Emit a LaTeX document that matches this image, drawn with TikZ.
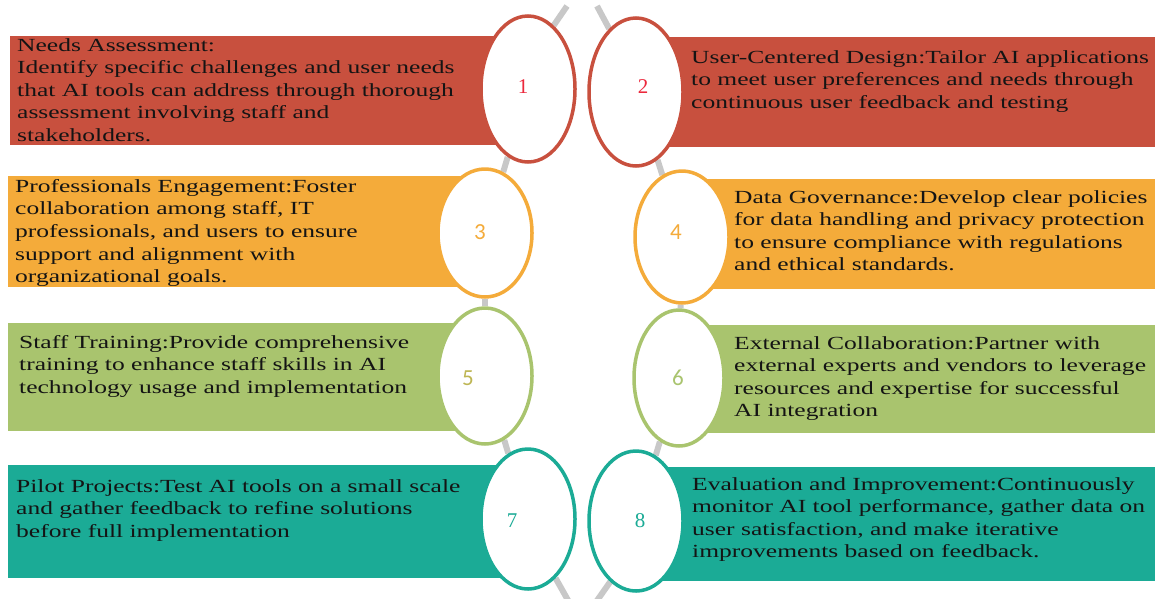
\documentclass[tikz,border=0pt]{standalone}
\usepackage{fontspec}
\setmainfont{Liberation Serif}[FakeStretch=1.38]
\newfontfamily\numserif{Liberation Serif}
\newfontfamily\numsans{Carlito}
\usetikzlibrary{shapes.geometric,backgrounds}
\definecolor{rowred}{RGB}{200,80,62}
\definecolor{roworange}{RGB}{244,171,58}
\definecolor{rowgreen}{RGB}{169,196,110}
\definecolor{rowteal}{RGB}{27,171,150}
\definecolor{numred}{RGB}{236,40,60}
\definecolor{numgold}{RGB}{190,182,84}
\definecolor{chain}{RGB}{200,200,200}

\begin{document}
\begin{tikzpicture}[x=1pt,y=-1pt,
  blob/.style={ellipse,draw=#1,line width=3.5pt,fill=white,inner sep=0pt,minimum width=94pt},
  num/.style={text=#1,inner sep=0pt,font=\fontsize{21}{21}\numserif},
  numsf/.style={text=#1,inner sep=0pt,font=\fontsize{23}{23}\numsans},
  desc/.style={anchor=north west,align=left,inner sep=0pt,text=black!92,font=\fontsize{18.5}{22.6}\selectfont},
  link/.style={draw=chain,line width=6pt}]
  \useasboundingbox (0,0) rectangle (1155,598);
  \clip (0,0) rectangle (1155,598);
  % bands
  \fill[rowred] (10,36) rectangle (528,145);
  \fill[rowred] (636,37) rectangle (1155,147);
  \fill[roworange] (8,176) rectangle (485,287);
  \fill[roworange] (682,179) rectangle (1155,289);
  \fill[rowgreen] (8,323) rectangle (485,431);
  \fill[rowgreen] (679,325) rectangle (1155,433);
  \fill[rowteal] (8,465) rectangle (528,578);
  \fill[rowteal] (636,467) rectangle (1155,581);
  % rings
  \node[blob=rowred,minimum height=146pt] (e1) at (528,89) {};
  \node[blob=rowred,minimum height=148pt] (e2) at (636,92) {};
  \node[blob=roworange,minimum height=128pt] (e3) at (485,233) {};
  \node[blob=roworange,minimum height=132pt] (e4) at (682,237) {};
  \node[blob=rowgreen,minimum height=136pt] (e5) at (485,376) {};
  \node[blob=rowgreen,minimum height=136pt,minimum width=90pt] (e6) at (679,378) {};
  \node[blob=rowteal,minimum height=140pt] (e7) at (528,519) {};
  \node[blob=rowteal,minimum height=140pt] (e8) at (636,521) {};
  % chain
  \coordinate (ctopA) at (567,6);
  \coordinate (ctopB) at (597,6);
  \coordinate (cbotA) at (569,602);
  \coordinate (cbotB) at (596,602);
  \begin{scope}[on background layer]
    \draw[link] (ctopA) -- (e1.68);
    \draw[link] (ctopB) -- (e2.113);
    \draw[link] (e1) -- (e3);
    \draw[link] (e3) -- (e5);
    \draw[link] (e5) -- (e7);
    \draw[link] (e2) -- (e4);
    \draw[link] (e4) -- (e6);
    \draw[link] (e6) -- (e8);
    \draw[link] (e7.-65) -- (cbotA);
    \draw[link] (e8.-113) -- (cbotB);
  \end{scope}
  % numbers
  \node[num=numred] (n1) at (523,87) {1};
  \node[num=numred] (n2) at (643,87) {2};
  \node[numsf=roworange] (n3) at (480,232) {3};
  \node[numsf=roworange] (n4) at (676,232) {4};
  \node[numsf=numgold] (n5) at (468,378) {5};
  \node[numsf=rowgreen] (n6) at (678,378) {6};
  \node[num=rowteal] (n7) at (512,521) {7};
  \node[num=rowteal] (n8) at (640,521) {8};
  % texts
  \node[desc] (t1) at (17,38) {Needs Assessment:\\Identify specific challenges and user needs\\that AI tools can address through thorough\\assessment involving staff and\\stakeholders.};
  \node[desc] (t2) at (691,50) {User-Centered Design:Tailor AI applications\\to meet user preferences and needs through\\continuous user feedback and testing};
  \node[desc] (t3) at (15,179) {Professionals Engagement:Foster\\collaboration among staff, IT\\professionals, and users to ensure\\support and alignment with\\organizational goals.};
  \node[desc] (t4) at (734,190) {Data Governance:Develop clear policies\\for data handling and privacy protection\\to ensure compliance with regulations\\and ethical standards.};
  \node[desc] (t5) at (19,335) {Staff Training:Provide comprehensive\\training to enhance staff skills in AI\\technology usage and implementation};
  \node[desc] (t6) at (734,336) {External Collaboration:Partner with\\external experts and vendors to leverage\\resources and expertise for successful\\AI integration};
  \node[desc] (t7) at (16,479) {Pilot Projects:Test AI tools on a small scale\\and gather feedback to refine solutions\\before full implementation};
  \node[desc] (t8) at (692,477) {Evaluation and Improvement:Continuously\\monitor AI tool performance, gather data on\\user satisfaction, and make iterative\\improvements based on feedback.};
\end{tikzpicture}
\end{document}
